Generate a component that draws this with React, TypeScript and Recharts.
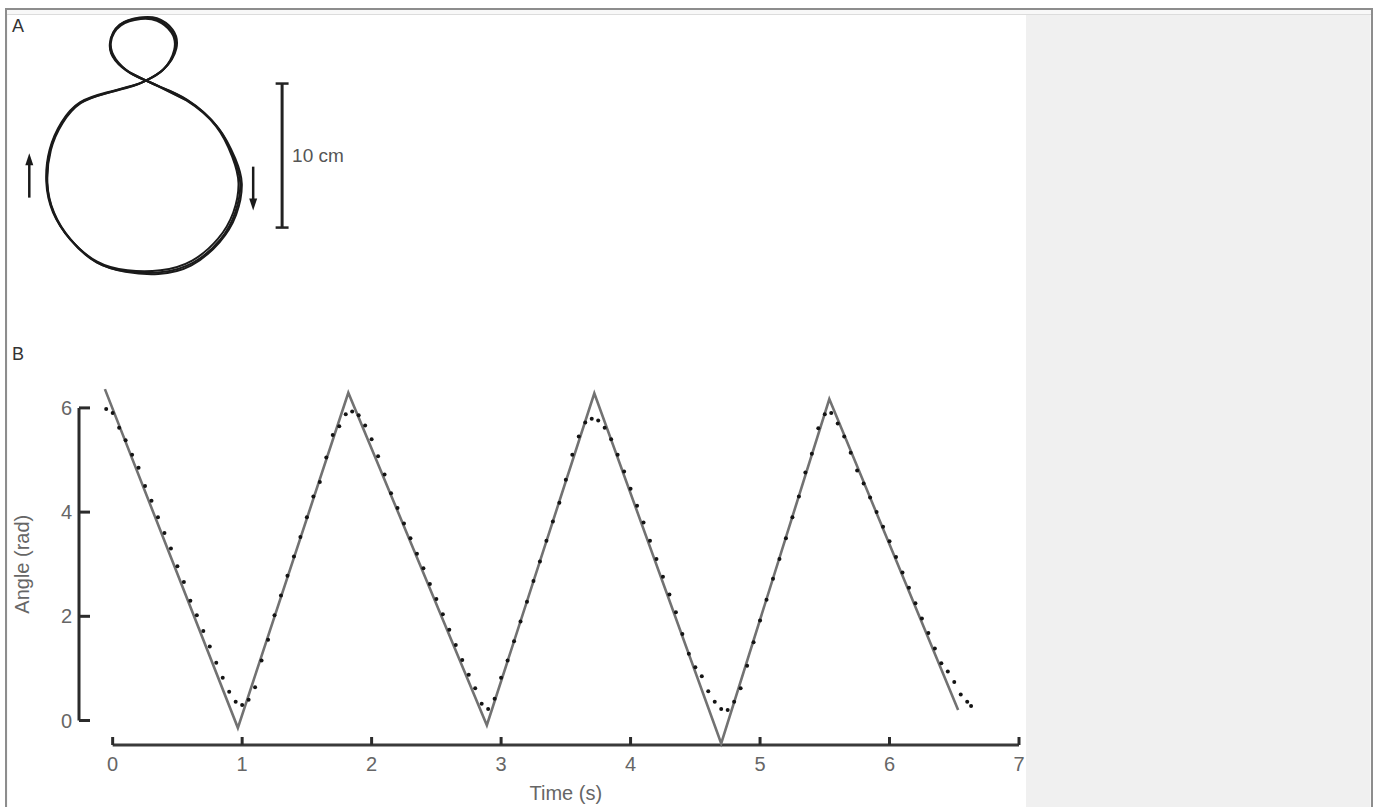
import React from 'react';
import {
  ComposedChart, LineChart, Line, Scatter, XAxis, YAxis,
  ReferenceLine, ReferenceDot
} from 'recharts';

// Panel B: model angle (solid gray) and measured angle (dots) over time
const modelTime = [-0.06, 0.967, 1.82, 2.89, 3.72, 4.7, 5.535, 6.53];
const modelAngle = [6.36, -0.14, 6.29, -0.09, 6.28, -0.44, 6.17, 0.2];

const measuredTime = [
  -0.05, 0, 0.05, 0.1, 0.15, 0.2, 0.25, 0.3, 0.35, 0.4, 0.45, 0.5, 0.55, 0.6, 0.65, 0.7, 0.75, 0.8, 0.85, 0.9,
  0.95, 1, 1.05, 1.1, 1.15, 1.2, 1.25, 1.3, 1.35, 1.4, 1.45, 1.5, 1.55, 1.6, 1.65, 1.7, 1.75, 1.8, 1.85, 1.9,
  1.95, 2, 2.05, 2.1, 2.15, 2.2, 2.25, 2.3, 2.35, 2.4, 2.45, 2.5, 2.55, 2.6, 2.65, 2.7, 2.75, 2.8, 2.85, 2.9,
  2.95, 3, 3.05, 3.1, 3.15, 3.2, 3.25, 3.3, 3.35, 3.4, 3.45, 3.5, 3.55, 3.6, 3.65, 3.7, 3.75, 3.8, 3.85, 3.9,
  3.95, 4, 4.05, 4.1, 4.15, 4.2, 4.25, 4.3, 4.35, 4.4, 4.45, 4.5, 4.55, 4.6, 4.65, 4.7, 4.75, 4.8, 4.85, 4.9,
  4.95, 5, 5.05, 5.1, 5.15, 5.2, 5.25, 5.3, 5.35, 5.4, 5.45, 5.5, 5.55, 5.6, 5.65, 5.7, 5.75, 5.8, 5.85, 5.9,
  5.95, 6, 6.05, 6.1, 6.15, 6.2, 6.25, 6.3, 6.35, 6.4, 6.45, 6.5, 6.55, 6.6, 6.63,
];
const measuredAngle = [
  5.98, 5.9, 5.62, 5.38, 5.1, 4.85, 4.5, 4.22, 3.9, 3.6, 3.3, 2.96, 2.66, 2.3, 2.02, 1.72, 1.42, 1.11, 0.82, 0.55,
  0.36, 0.3, 0.4, 0.64, 1.15, 1.55, 2.02, 2.4, 2.78, 3.15, 3.52, 3.9, 4.3, 4.58, 5.05, 5.48, 5.65, 5.88, 5.93, 5.86,
  5.66, 5.4, 5.07, 4.72, 4.36, 4.08, 3.78, 3.5, 3.2, 2.92, 2.62, 2.33, 2.04, 1.74, 1.45, 1.16, 0.88, 0.62, 0.32, 0.22,
  0.42, 0.82, 1.15, 1.52, 1.9, 2.28, 2.68, 3.05, 3.45, 3.82, 4.18, 4.62, 5.1, 5.45, 5.72, 5.79, 5.76, 5.62, 5.4, 5.1,
  4.78, 4.45, 4.12, 3.8, 3.45, 3.1, 2.76, 2.42, 2.08, 1.66, 1.28, 1.02, 0.85, 0.56, 0.36, 0.22, 0.2, 0.36, 0.62, 1.05,
  1.5, 1.92, 2.32, 2.72, 3.1, 3.5, 3.9, 4.3, 4.76, 5.12, 5.61, 5.88, 5.9, 5.7, 5.45, 5.14, 4.8, 4.55, 4.28, 4.0,
  3.72, 3.44, 3.14, 2.84, 2.55, 2.25, 1.96, 1.68, 1.38, 1.1, 0.94, 0.74, 0.5, 0.36, 0.28,
];

const xTicks = [0, 1, 2, 3, 4, 5, 6, 7];
const yTicks = [0, 2, 4, 6];

// Panel A: hand trajectory (cm), three overlapping figure-eight loops
const loop1X = [-0.9, 0.19, 1.18, 3.03, 5.12, 6.25, 6.74, 6.39, 5.35, 3.47, 1.18, -1.13, -3.22, -5.07, -6.23, -6.69, -6.46, -5.65, -4.38, -2.52, -0.67, 0.19, 1.39, 2.22, 1.99, 0.95, -0.21, -1.6, -2.29, -1.94, -0.9, 0.19, 1.18, 3.03];
const loop1Y = [7.41, 6.88, 6.44, 5.56, 3.7, 1.62, -0.21, -2.29, -4.17, -5.76, -6.44, -6.37, -5.76, -4.17, -2.29, -0.21, 2.08, 3.94, 5.33, 6.02, 6.53, 6.88, 7.64, 9.03, 10.3, 11.11, 11.23, 10.76, 9.49, 8.33, 7.41, 6.88, 6.44, 5.56];
const loop2X = [-0.88, 0.19, 1.25, 3.15, 5.25, 6.4, 6.85, 6.45, 5.3, 3.35, 1.05, -1.25, -3.3, -5.1, -6.28, -6.74, -6.5, -5.68, -4.4, -2.5, -0.65, 0.19, 1.45, 2.3, 2.05, 0.95, -0.25, -1.65, -2.32, -1.95, -0.88, 0.19, 1.25, 3.15];
const loop2Y = [7.38, 6.88, 6.4, 5.45, 3.55, 1.45, -0.3, -2.45, -4.35, -5.95, -6.55, -6.4, -5.7, -4.1, -2.25, -0.15, 2.1, 3.98, 5.36, 6.06, 6.55, 6.88, 7.7, 9.1, 10.4, 11.2, 11.25, 10.75, 9.45, 8.28, 7.38, 6.88, 6.4, 5.45];
const loop3X = [-0.92, 0.19, 1.15, 3.0, 5.05, 6.18, 6.62, 6.25, 5.2, 3.4, 1.2, -1.1, -3.2, -5.05, -6.2, -6.66, -6.42, -5.62, -4.35, -2.55, -0.7, 0.19, 1.35, 2.15, 1.95, 0.95, -0.18, -1.55, -2.25, -1.9, -0.92, 0.19, 1.15, 3.0];
const loop3Y = [7.44, 6.88, 6.42, 5.5, 3.72, 1.6, -0.25, -2.3, -4.1, -5.62, -6.3, -6.3, -5.7, -4.15, -2.3, -0.25, 2.05, 3.9, 5.3, 6.0, 6.5, 6.88, 7.6, 9.0, 10.22, 11.02, 11.15, 10.7, 9.52, 8.36, 7.44, 6.88, 6.42, 5.5];

const modelData = modelTime.map((t, i) => ({ t, angle: modelAngle[i] }));
const measuredData = measuredTime.map((t, i) => ({ t, angle: measuredAngle[i] }));
const toPoints = (xs: number[], ys: number[]) => xs.map((x, i) => ({ x, y: ys[i] }));
const loops = [toPoints(loop1X, loop1Y), toPoints(loop2X, loop2Y), toPoints(loop3X, loop3Y)];

const X_MIN = -0.26;
const X_MAX = 7;
const Y_MIN = -0.47;
const Y_MAX = 6.5;

const FONT = '"Liberation Sans", Arial, sans-serif';
const AXIS_COLOR = '#2b2b2b';
const TEXT_COLOR = '#666';

const XTick = (props: any) => {
  const { x, y, payload } = props;
  return (
    <g>
      <line x1={x} y1={y} x2={x} y2={y - 8} stroke={AXIS_COLOR} strokeWidth={3} />
      <text x={x} y={y + 26} textAnchor="middle" fill={TEXT_COLOR} fontSize={20} fontFamily={FONT}>
        {payload.value}
      </text>
    </g>
  );
};

const YTick = (props: any) => {
  const { x, y, payload } = props;
  return (
    <g>
      <line x1={x} y1={y} x2={x + 11} y2={y} stroke={AXIS_COLOR} strokeWidth={3} />
      <text x={x - 7} y={y + 7} textAnchor="end" fill={TEXT_COLOR} fontSize={20} fontFamily={FONT}>
        {payload.value}
      </text>
    </g>
  );
};

const TimeLabel = (props: any) => {
  const { viewBox } = props;
  const cx = viewBox.x + (viewBox.width * (3.5 - X_MIN)) / (X_MAX - X_MIN);
  return (
    <text x={cx} y={viewBox.y + 55} textAnchor="middle" fill={TEXT_COLOR} fontSize={20} fontFamily={FONT}>
      Time (s)
    </text>
  );
};

const AngleLabel = (props: any) => {
  const { viewBox } = props;
  const cy = viewBox.y + (viewBox.height * (Y_MAX - 3)) / (Y_MAX - Y_MIN);
  const cx = viewBox.x + 21;
  return (
    <text
      x={cx} y={cy} transform={`rotate(-90, ${cx}, ${cy})`}
      textAnchor="middle" fill={TEXT_COLOR} fontSize={20} fontFamily={FONT}
    >
      Angle (rad)
    </text>
  );
};

const ArrowHead = (dir: 'up' | 'down') => (props: any) => {
  const { cx, cy } = props;
  const d = dir === 'up'
    ? `M${cx},${cy - 7} L${cx - 4},${cy + 5} L${cx + 4},${cy + 5} Z`
    : `M${cx},${cy + 7} L${cx - 4},${cy - 5} L${cx + 4},${cy - 5} Z`;
  return <path d={d} fill="#1a1a1a" />;
};

const Dot = (props: any) => <circle cx={props.cx} cy={props.cy} r={2} fill="#141414" />;

const panelLetter: React.CSSProperties = {
  position: 'absolute', fontFamily: FONT, fontSize: 18, color: '#333', lineHeight: '18px',
};

export default function App() {
  return (
    <div>
      <style>{'body{overflow:hidden}'}</style>
      {/* frame */}
      <div style={{
        position: 'absolute', left: 5, top: 8, width: 1368, height: 799, boxSizing: 'border-box',
        borderTop: '2px solid #8d8d8d', borderLeft: '2px solid #8d8d8d', borderRight: '2px solid #8d8d8d',
        background: '#f8f8f8',
      }} />
      <div style={{ position: 'absolute', left: 7, top: 14, width: 1364, height: 1, background: '#dcdcdc' }} />
      <div style={{ position: 'absolute', left: 8, top: 15, width: 1018, height: 792, background: '#fff' }} />
      <div style={{ position: 'absolute', left: 1026, top: 15, width: 344, height: 792, background: '#f0f0f0' }} />

      <div style={{ ...panelLetter, left: 12, top: 17 }}>A</div>
      <div style={{ ...panelLetter, left: 12, top: 345 }}>B</div>

      {/* Panel A */}
      <div style={{ position: 'absolute', left: 8, top: 15 }}>
        <LineChart width={400} height={300} margin={{ top: 0, right: 0, bottom: 0, left: 0 }}>
          <XAxis type="number" dataKey="x" domain={[-9.4, 18.4]} hide />
          <YAxis type="number" dataKey="y" domain={[-9.4, 11.43]} hide />
          {loops.map((pts, i) => (
            <Line
              key={i} data={pts} dataKey="y" type="natural" stroke="#1a1a1a"
              strokeWidth={2} dot={false} isAnimationActive={false}
            />
          ))}
          <ReferenceLine
            segment={[{ x: 9.65, y: -3.33 }, { x: 9.65, y: 6.67 }]} stroke="#222" strokeWidth={3}
            label={{ value: '10 cm', position: 'right', offset: 10, fill: '#555', fontSize: 19, fontFamily: FONT }}
          />
          <ReferenceLine segment={[{ x: 9.2, y: 6.67 }, { x: 10.1, y: 6.67 }]} stroke="#222" strokeWidth={2.5} />
          <ReferenceLine segment={[{ x: 9.2, y: -3.33 }, { x: 10.1, y: -3.33 }]} stroke="#222" strokeWidth={2.5} />
          <ReferenceLine segment={[{ x: -7.92, y: -1.25 }, { x: -7.92, y: 1.2 }]} stroke="#1a1a1a" strokeWidth={2.5} />
          <ReferenceDot x={-7.92} y={1.35} shape={ArrowHead('up')} />
          <ReferenceLine segment={[{ x: 7.64, y: 0.9 }, { x: 7.64, y: -1.5 }]} stroke="#1a1a1a" strokeWidth={2.5} />
          <ReferenceDot x={7.64} y={-1.65} shape={ArrowHead('down')} />
        </LineChart>
      </div>

      {/* Panel B */}
      <div style={{ position: 'absolute', left: 8, top: 340 }}>
        <ComposedChart width={1018} height={467} margin={{ top: 41.85, right: 7, bottom: 0, left: 0 }}>
          <XAxis
            type="number" dataKey="t" domain={[X_MIN, X_MAX]} ticks={xTicks} interval={0}
            axisLine={false} tickLine={false} tickSize={0} tickMargin={0} height={62}
            tick={<XTick />} label={<TimeLabel />}
          />
          <YAxis
            type="number" dataKey="angle" domain={[Y_MIN, Y_MAX]} ticks={yTicks} interval={0}
            axisLine={false} tickLine={false} tickSize={0} tickMargin={0} width={71}
            tick={<YTick />} label={<AngleLabel />}
          />
          <ReferenceLine segment={[{ x: 0, y: Y_MIN }, { x: X_MAX, y: Y_MIN }]} stroke="#3a3a3a" strokeWidth={3} />
          <ReferenceLine segment={[{ x: X_MIN, y: 0 }, { x: X_MIN, y: 6 }]} stroke={AXIS_COLOR} strokeWidth={3} />
          <Line
            data={modelData} dataKey="angle" type="linear" stroke="#727272" strokeWidth={2.6}
            dot={false} isAnimationActive={false}
          />
          <Scatter data={measuredData} dataKey="angle" shape={<Dot />} isAnimationActive={false} />
        </ComposedChart>
      </div>
    </div>
  );
}
